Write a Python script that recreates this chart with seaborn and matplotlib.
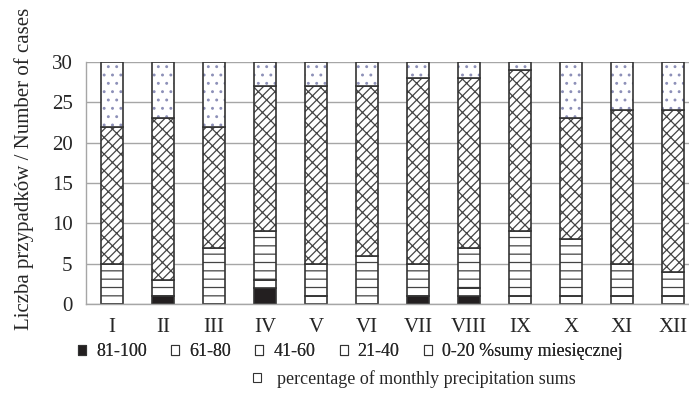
import numpy as np
import pandas as pd
import matplotlib
matplotlib.use("Agg")
import matplotlib.pyplot as plt
import seaborn as sns
from matplotlib.patches import Patch

# dane (liczba przypadkow w kazdym miesiacu)
miesiace = ["I", "II", "III", "IV", "V", "VI", "VII", "VIII", "IX", "X", "XI", "XII"]
klasa_81_100 = [0, 1, 0, 2, 0, 0, 1, 1, 0, 0, 0, 0]
klasa_61_80 = [0, 0, 0, 1, 1, 0, 0, 1, 1, 1, 1, 1]
klasa_41_60 = [5, 2, 7, 6, 4, 6, 4, 5, 8, 7, 4, 3]
klasa_21_40 = [17, 20, 15, 18, 22, 21, 23, 21, 20, 15, 19, 20]
klasa_0_20 = [8, 7, 8, 3, 3, 3, 2, 2, 1, 7, 6, 6]

etykiety = ["81-100", "61-80", "41-60", "21-40", "0-20 %sumy miesięcznej"]
opis_en = "percentage of monthly precipitation sums"
ylabel = "Liczba przypadków / Number of cases"

sns.set_style("white")
plt.rcParams["font.family"] = ["Liberation Serif", "DejaVu Serif"]
plt.rcParams["hatch.linewidth"] = 0.9

krawedz = "#333333"
szary = "#a6a6a6"

# (wartosci, wypelnienie, wzor, kolor wzoru)
warstwy = [
    (klasa_81_100, "#231f20", "", krawedz),
    (klasa_61_80, "white", "", krawedz),
    (klasa_41_60, "white", "--", "#444444"),
    (klasa_21_40, "white", "////\\\\", "#444444"),
    (klasa_0_20, "white", "..", "#8d90b8"),
]

fig = plt.figure(figsize=(6.89, 3.96), dpi=100)
ax = fig.add_axes([86.5 / 689, 92 / 396, 612 / 689, 242 / 396])

dol = np.zeros(len(miesiace))
for wartosci, kolor, wzor, kolor_wzoru in warstwy:
    df = pd.DataFrame({"miesiac": miesiace, "n": wartosci})
    # wypelnienie + wzor
    sns.barplot(
        data=df, x="miesiac", y="n", ax=ax, bottom=dol, color=kolor,
        edgecolor=kolor_wzoru, linewidth=0, hatch=wzor, width=0.43,
        saturation=1, errorbar=None,
    )
    # obrys segmentu
    sns.barplot(
        data=df, x="miesiac", y="n", ax=ax, bottom=dol, color=krawedz,
        fill=False, linewidth=1.2, width=0.43, saturation=1, errorbar=None,
    )
    dol = dol + np.array(wartosci)

ax.set_xlim(-0.5, len(miesiace) - 0.5)
ax.set_ylim(0, 30)
ax.set_yticks(range(0, 31, 5))
ax.yaxis.grid(True, color=szary, linewidth=1)
ax.set_axisbelow(True)
for s in ["top", "right"]:
    ax.spines[s].set_visible(False)
for s in ["left", "bottom"]:
    ax.spines[s].set_color(szary)
    ax.spines[s].set_linewidth(1)

ax.set_xticks(np.arange(len(miesiace)))
ax.set_xticklabels(miesiace)
ax.set_xticks(np.arange(len(miesiace)) - 0.5, minor=True)
ax.tick_params(axis="x", which="major", length=0, labelsize=15, pad=10)
ax.tick_params(axis="x", which="minor", length=6, color=szary, direction="out")
ax.tick_params(axis="y", length=6, color=szary, labelsize=15, pad=4)
ax.set_xlabel("")
ax.set_ylabel(ylabel, fontsize=15, labelpad=6)
ax.yaxis.set_label_coords(-0.085, 0.56)

uchwyty = [Patch(facecolor=k, edgecolor=krawedz, hatch="", linewidth=0.8)
           for _, k, _, _ in warstwy]
legenda = fig.legend(
    uchwyty, etykiety, ncol=5, loc="center left",
    bbox_to_anchor=(78 / 689, 1 - 352 / 396), frameon=False, fontsize=13,
    handlelength=0.45, handleheight=0.45, handletextpad=0.55,
    columnspacing=1.35, borderpad=0, borderaxespad=0,
)
fig.add_artist(legenda)
fig.legend(
    [Patch(facecolor="white", edgecolor=krawedz, linewidth=0.8)], [opis_en],
    loc="center left", bbox_to_anchor=(253 / 689, 1 - 379 / 396), frameon=False,
    fontsize=13, handlelength=0.45, handleheight=0.45, handletextpad=0.9,
    borderpad=0, borderaxespad=0,
)

fig.savefig("out.png", dpi=100)
